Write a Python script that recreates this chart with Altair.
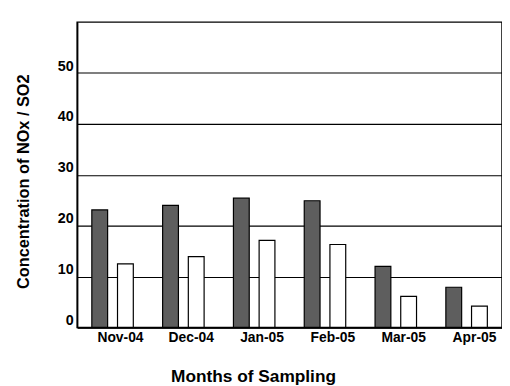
import altair as alt
import pandas as pd

months = ["Nov-04", "Dec-04", "Jan-05", "Feb-05", "Mar-05", "Apr-05"]
series = ["NOx", "SO2"]
nox = [23.1, 24.0, 25.4, 24.9, 12.0, 7.9]
so2 = [12.5, 13.9, 17.1, 16.3, 6.1, 4.2]
y_ticks = [0, 10, 20, 30, 40, 50]

rows = []
for m, a, b in zip(months, nox, so2):
    rows.append({"month": m, "series": series[0], "value": a})
    rows.append({"month": m, "series": series[1], "value": b})
df = pd.DataFrame(rows)

label_font = "Liberation Sans"
title_font = "Liberation Sans"

chart = (
    alt.Chart(df)
    .mark_bar(stroke="black", strokeWidth=1.2)
    .encode(
        x=alt.X(
            "month:N",
            sort=months,
            scale=alt.Scale(paddingInner=0, paddingOuter=0),
            axis=alt.Axis(
                title="Months of Sampling",
                labelAngle=0,
                ticks=False,
                labelFont=label_font,
                labelFontSize=14,
                labelFontWeight="bold",
                labelColor="black",
                labelPadding=3,
                labelOffset=8,
                titleFont=title_font,
                titleFontSize=17.5,
                titleFontWeight="bold",
                titleColor="black",
                titlePadding=24,
                titleX=178,
                domainColor="black",
                domainWidth=1.5,
                grid=False,
            ),
        ),
        xOffset=alt.XOffset(
            "series:N",
            sort=series,
            scale=alt.Scale(paddingInner=0.385, paddingOuter=0.571),
        ),
        y=alt.Y(
            "value:Q",
            scale=alt.Scale(domain=[0, 60], nice=False),
            axis=alt.Axis(
                title="Concentration of NOx / SO2",
                values=y_ticks,
                ticks=False,
                labelFont=label_font,
                labelFontSize=14.5,
                labelFontWeight="bold",
                labelColor="black",
                labelPadding=4,
                labelBaseline="alphabetic",
                labelOffset=-3,
                titleFont=title_font,
                titleFontSize=16.5,
                titleFontWeight="bold",
                titleColor="black",
                titlePadding=26,
                titleY=161,
                domainColor="black",
                domainWidth=1.5,
                grid=True,
                gridColor="black",
                gridWidth=1.2,
                gridOpacity=1,
            ),
        ),
        fill=alt.Fill(
            "series:N",
            sort=series,
            scale=alt.Scale(domain=series, range=["#5e5e5e", "white"]),
            legend=None,
        ),
    )
    .properties(
        width=430,
        height=309,
        autosize=alt.AutoSizeParams(type="none"),
        padding={"left": 70, "top": 12, "right": 0, "bottom": 58},
    )
    .configure_view(stroke="black", strokeWidth=1.5)
)

chart.save("out.html", embed_options={"renderer": "svg", "actions": False})
